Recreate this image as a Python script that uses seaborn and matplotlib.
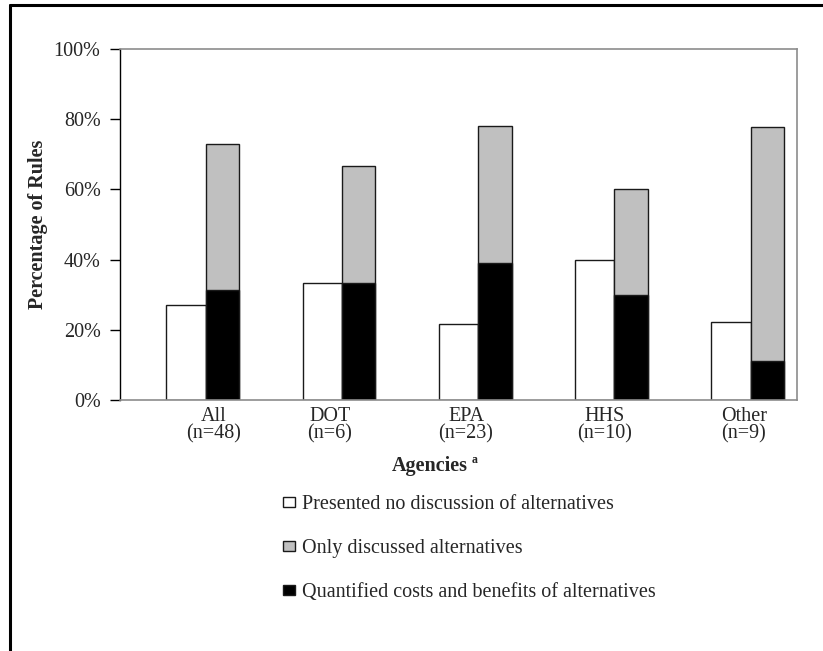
import numpy as np
import pandas as pd
import seaborn as sns
import matplotlib
matplotlib.use("Agg")
import matplotlib.pyplot as plt
from matplotlib.patches import Patch
from matplotlib.lines import Line2D
from matplotlib.ticker import PercentFormatter

# Share of rules in each category, by agency
agencies = ["All", "DOT", "EPA", "HHS", "Other"]
sample_sizes = [48, 6, 23, 10, 9]
no_discussion = [27.1, 33.3, 21.7, 40.0, 22.2]
quantified = [31.3, 33.3, 39.1, 30.0, 11.1]
discussed_only = [41.7, 33.3, 39.1, 30.0, 66.7]

legend_labels = [
    "Presented no discussion of alternatives",
    "Only discussed alternatives",
    "Quantified costs and benefits of alternatives",
]

sns.set_theme(style="white")
plt.rcParams["font.family"] = ["Liberation Serif", "DejaVu Serif"]

FS = 14.5

fig = plt.figure(figsize=(8.23, 6.51), dpi=100)
ax = fig.add_axes([120 / 823, 1 - 400 / 651, 677 / 823, 351 / 651])

pos = np.arange(len(agencies), dtype=float)
df = pd.DataFrame({
    "agency": agencies,
    "pos": pos,
    "none": no_discussion,
    "quant": quantified,
    "total": np.array(quantified) + np.array(discussed_only),
})

w_white, w_pair = 0.29, 0.245
edge = dict(edgecolor="#1a1a1a", linewidth=1.0)

sns.barplot(data=df.assign(x=df["pos"] - w_white / 2), x="x", y="none",
            native_scale=True, width=w_white, color="white", saturation=1,
            ax=ax, **edge)
sns.barplot(data=df.assign(x=df["pos"] + w_pair / 2), x="x", y="total",
            native_scale=True, width=w_pair, color="#c0c0c0", saturation=1,
            ax=ax, **edge)
sns.barplot(data=df.assign(x=df["pos"] + w_pair / 2), x="x", y="quant",
            native_scale=True, width=w_pair, color="black", saturation=1,
            ax=ax, **edge)

ax.set_xlim(-0.63, 4.34)
ax.set_ylim(0, 100)
ax.set_yticks(np.arange(0, 101, 20))
ax.yaxis.set_major_formatter(PercentFormatter(decimals=0))

label_shift = [0.06, -0.09, -0.09, -0.07, -0.05]
ax.set_xticks(pos + np.array(label_shift))
ax.set_xticklabels([f"{a}\n(n={n})" for a, n in zip(agencies, sample_sizes)],
                   fontsize=FS, linespacing=0.9)
ax.tick_params(axis="x", length=0, pad=5)
ax.tick_params(axis="y", direction="out", length=7, width=1, color="black",
               left=True, labelsize=FS, pad=7)

for side in ["top", "right", "bottom"]:
    ax.spines[side].set_color("#8c8c8c")
    ax.spines[side].set_linewidth(1.2)
ax.spines["left"].set_color("black")
ax.spines["left"].set_linewidth(1.0)

ax.set_xlabel("")
ax.set_ylabel("Percentage of Rules", fontsize=FS, fontweight="bold")
ax.yaxis.set_label_coords(-0.106, 0.5)

# axis title with footnote marker
fig.text(430 / 823, 1 - 466 / 651, "Agencies", ha="center", va="center",
         fontsize=FS, fontweight="bold")
fig.text(472 / 823, 1 - 460 / 651, "a", ha="left", va="center",
         fontsize=8.5, fontweight="bold")

handles = [
    Patch(facecolor="white", edgecolor="#1a1a1a", linewidth=1.0),
    Patch(facecolor="#c0c0c0", edgecolor="#1a1a1a", linewidth=1.0),
    Patch(facecolor="black", edgecolor="#1a1a1a", linewidth=1.0),
]
fig.legend(handles, legend_labels, loc="upper left",
           bbox_to_anchor=(283 / 823, 1 - 495 / 651), frameon=False,
           fontsize=FS, handlelength=0.62, handleheight=0.42,
           handletextpad=0.3, labelspacing=1.25, borderpad=0, borderaxespad=0)

# outer frame along top and left edges
fig.add_artist(Line2D([10 / 823, 1.0], [1 - 5 / 651, 1 - 5 / 651],
                      transform=fig.transFigure, color="black", linewidth=2.2))
fig.add_artist(Line2D([10 / 823, 10 / 823], [0.0, 1 - 5 / 651],
                      transform=fig.transFigure, color="black", linewidth=2.2))

fig.savefig("out.png", dpi=100, facecolor="white")
